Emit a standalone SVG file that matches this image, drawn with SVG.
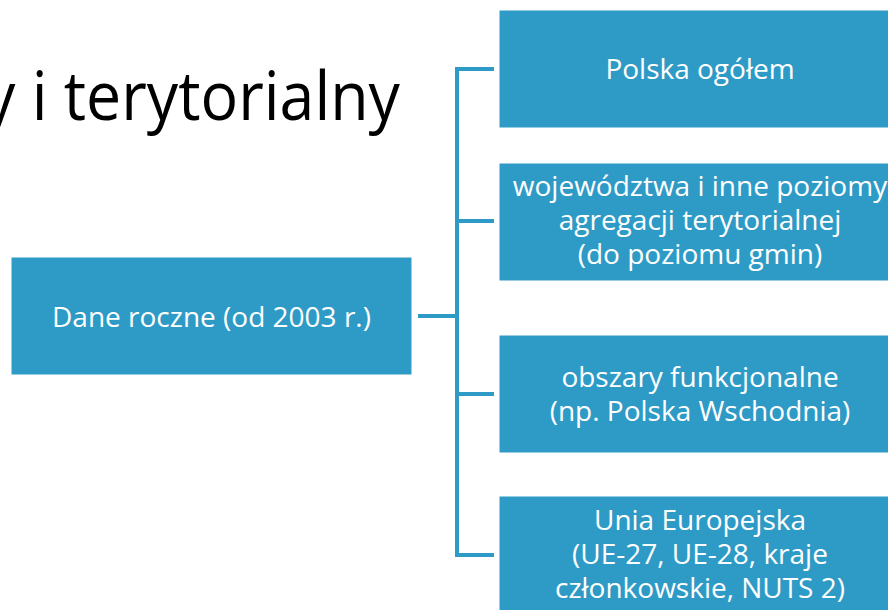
<svg xmlns="http://www.w3.org/2000/svg" width="888" height="610" viewBox="0 0 888 610">
<style>
.box{fill:#2E9BC6;stroke:#ffffff;stroke-width:1}
.lbl{font-family:"Open Sans","Noto Sans",sans-serif;font-size:28px;fill:#ffffff;text-anchor:middle}
.conn{fill:none;stroke:#2E9BC6;stroke-width:4;stroke-linecap:butt}
.title{font-family:"Open Sans","Noto Sans",sans-serif;font-size:68px;fill:#000000}
</style>
<rect width="888" height="610" fill="#ffffff"/>
<text class="title" x="-16" y="120" textLength="416" lengthAdjust="spacingAndGlyphs">y i terytorialny</text>
<g id="connectors">
<path class="conn" d="M418 316 H457"/>
<path class="conn" d="M457 69 V555"/>
<path class="conn" d="M455 69 H494"/>
<path class="conn" d="M457 221 H494"/>
<path class="conn" d="M457 394 H494"/>
<path class="conn" d="M455 555 H494"/>
</g>
<g id="dane-roczne">
<rect class="box" x="11" y="257" width="401" height="118"/>
<text class="lbl" x="211.5" y="327">Dane roczne (od 2003 r.)</text>
</g>
<g id="polska-ogolem">
<rect class="box" x="499" y="10" width="402" height="118"/>
<text class="lbl" x="700" y="79">Polska ogółem</text>
</g>
<g id="wojewodztwa">
<rect class="box" x="499" y="163" width="402" height="118"/>
<text class="lbl" x="700" y="196">województwa i inne poziomy</text>
<text class="lbl" x="700" y="230">agregacji terytorialnej</text>
<text class="lbl" x="700" y="264">(do poziomu gmin)</text>
</g>
<g id="obszary-funkcjonalne">
<rect class="box" x="499" y="335" width="402" height="118"/>
<text class="lbl" x="700" y="387">obszary funkcjonalne</text>
<text class="lbl" x="700" y="421">(np. Polska Wschodnia)</text>
</g>
<g id="unia-europejska">
<rect class="box" x="499" y="496" width="402" height="118"/>
<text class="lbl" x="700" y="530">Unia Europejska</text>
<text class="lbl" x="700" y="564">(UE-27, UE-28, kraje</text>
<text class="lbl" x="700" y="598">członkowskie, NUTS 2)</text>
</g>
</svg>
